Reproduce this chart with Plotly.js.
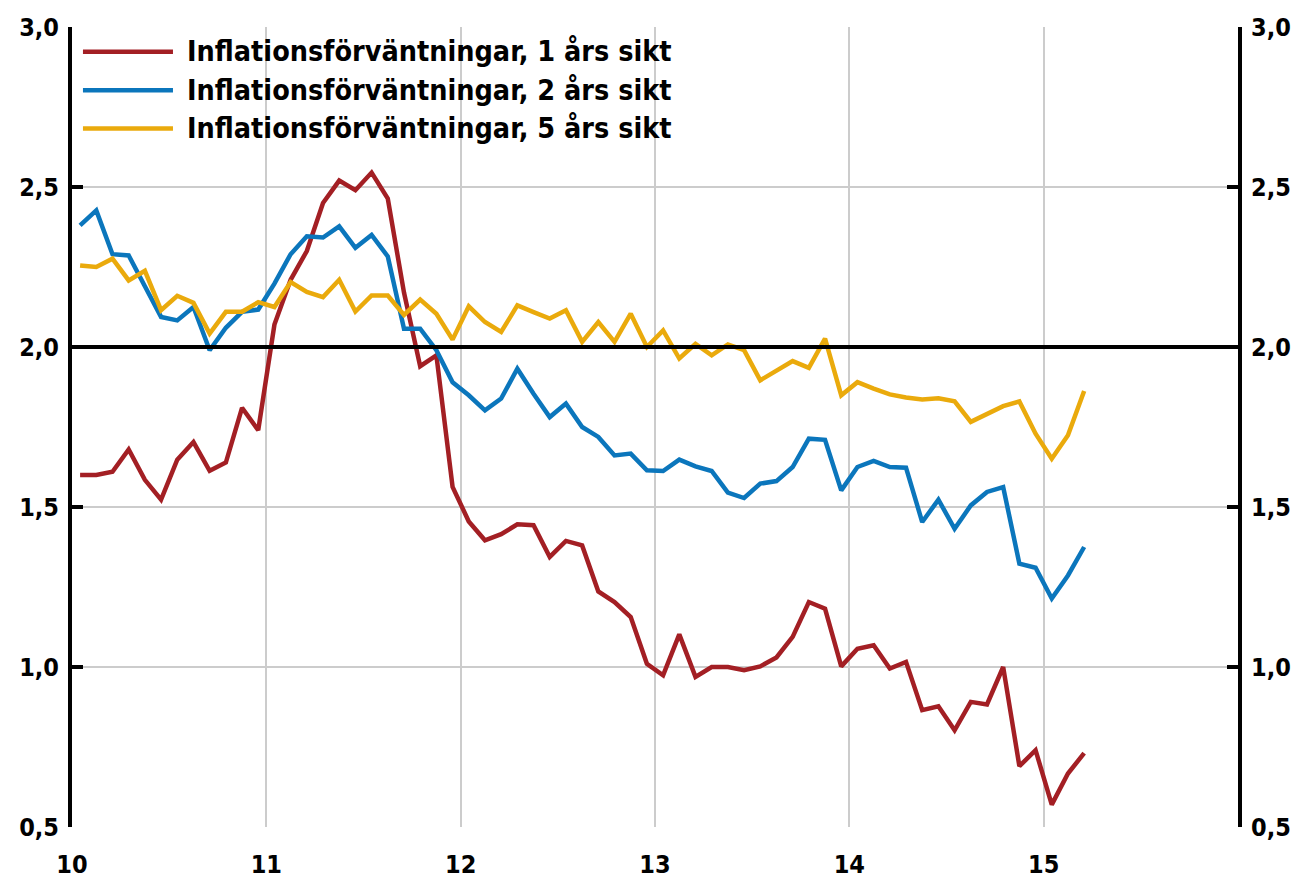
<!DOCTYPE html>
<html>
<head>
<meta charset="utf-8">
<script src="https://cdn.plot.ly/plotly-3.0.1.min.js"></script>
<style>html,body{margin:0;padding:0;background:#fff;}#chart{width:1299px;height:880px;}</style>
</head>
<body>
<div id="chart"></div>
<script>
// Monthly observations, Jan 2010 – Mar 2015
const startYear = 10;
const nMonths = 63;
const seriesNames = [
  "Inflationsförväntningar, 1 års sikt",
  "Inflationsförväntningar, 2 års sikt",
  "Inflationsförväntningar, 5 års sikt"
];
const oneYear = [
  1.60, 1.60, 1.61, 1.68, 1.585, 1.523, 1.648, 1.703, 1.613, 1.639, 1.81, 1.74,
  2.07, 2.21, 2.30, 2.45, 2.52, 2.49, 2.545, 2.464, 2.17, 1.94, 1.974, 1.563,
  1.455, 1.396, 1.415, 1.446, 1.443, 1.344, 1.394, 1.38, 1.236, 1.203, 1.156, 1.01,
  0.974, 1.102, 0.969, 1.0, 1.0, 0.99, 1.002, 1.03, 1.094, 1.203, 1.182, 1.002,
  1.057, 1.068, 0.995, 1.016, 0.865, 0.877, 0.802, 0.891, 0.883, 1.0, 0.69, 0.74,
  0.57, 0.667, 0.731
];
const twoYear = [
  2.38, 2.427, 2.29, 2.286, 2.19, 2.094, 2.083, 2.125, 1.99, 2.06, 2.11, 2.117,
  2.198, 2.29, 2.346, 2.342, 2.377, 2.31, 2.35, 2.283, 2.057, 2.057, 1.99, 1.89,
  1.849, 1.802, 1.839, 1.932, 1.854, 1.781, 1.823, 1.75, 1.719, 1.661, 1.667, 1.615,
  1.6125, 1.648, 1.627, 1.6125, 1.545, 1.528, 1.573, 1.581, 1.625, 1.7135, 1.71, 1.552,
  1.625, 1.644, 1.625, 1.623, 1.453, 1.523, 1.432, 1.505, 1.547, 1.5625, 1.323, 1.31,
  1.214, 1.286, 1.375
];
const fiveYear = [
  2.255, 2.25, 2.276, 2.208, 2.238, 2.115, 2.16, 2.138, 2.042, 2.11, 2.11, 2.14,
  2.125, 2.203, 2.172, 2.156, 2.21, 2.111, 2.161, 2.161, 2.10, 2.148, 2.104, 2.023,
  2.127, 2.078, 2.047, 2.13, 2.109, 2.089, 2.115, 2.016, 2.078, 2.016, 2.104, 2.0,
  2.052, 1.964, 2.01, 1.974, 2.008, 1.99, 1.896, 1.927, 1.956, 1.935, 2.026, 1.849,
  1.89, 1.87, 1.852, 1.842, 1.836, 1.84, 1.83, 1.766, 1.792, 1.815, 1.83, 1.729,
  1.651, 1.724, 1.8625
];
const xTickVals = [10, 11, 12, 13, 14, 15];
const xTickText = ["10", "11", "12", "13", "14", "15"];
const refLevel = 2.0;

// month positions (mid-month) in decimal years
const months = [];
for (let i = 0; i < nMonths; i++) months.push(startYear + (i + 0.5) / 12);

const colors = ["#A31F24", "#0B76BC", "#EAAA0C"];
const FONT = "'DejaVu Sans Condensed', 'DejaVu Sans', sans-serif";
const seriesData = [oneYear, twoYear, fiveYear];

const traces = seriesData.map((ys, k) => ({
  type: "scatter", mode: "lines", x: months, y: ys, name: seriesNames[k],
  line: {color: colors[k], width: 4.5}, showlegend: false, hoverinfo: "x+y"
}));
// carrier trace for right-hand axis
traces.push({type: "scatter", mode: "lines", x: months, y: oneYear, yaxis: "y2",
  line: {color: "rgba(0,0,0,0)", width: 0}, showlegend: false, hoverinfo: "skip"});

const tickFont = {family: FONT, size: 25, color: "#000", weight: 700};
const yCommon = {
  range: [0.5, 3.0], tick0: 0.5, dtick: 0.5, tickformat: ".1f",
  showline: true, linewidth: 4, linecolor: "#000",
  ticks: "inside", ticklen: 11, tickwidth: 4, tickcolor: "#000",
  zeroline: false, tickfont: tickFont, fixedrange: true
};

const shapes = [{
  type: "line", xref: "paper", x0: 0, x1: 1, yref: "y", y0: refLevel, y1: refLevel,
  line: {color: "#000", width: 4}, layer: "above"
}];
const annotations = [];
const legendRowsY = [0.969, 0.921, 0.873];
seriesNames.forEach((nm, k) => {
  shapes.push({type: "line", xref: "paper", yref: "paper",
    x0: 0.0094, x1: 0.0866, y0: legendRowsY[k], y1: legendRowsY[k],
    line: {color: colors[k], width: 4.5}});
  annotations.push({xref: "paper", yref: "paper", x: 0.0969, y: legendRowsY[k],
    xanchor: "left", yanchor: "middle", showarrow: false, text: nm,
    font: {family: FONT, size: 28.5, color: "#000", weight: 700}});
});

const layout = {
  width: 1299, height: 880, autosize: false,
  margin: {l: 72, r: 61, t: 27, b: 53, pad: 0},
  paper_bgcolor: "#fff", plot_bgcolor: "#fff",
  separators: ", ",
  showlegend: false,
  xaxis: {
    range: [10, 16], tickvals: xTickVals, ticktext: xTickText,
    showgrid: true, gridcolor: "#cccccc", gridwidth: 2,
    showline: false, zeroline: false, ticks: "", ticklabelstandoff: 20,
    tickfont: tickFont, fixedrange: true
  },
  yaxis: Object.assign({}, yCommon, {side: "left", showgrid: true, gridcolor: "#cccccc", gridwidth: 2, ticklabelstandoff: 4}),
  yaxis2: Object.assign({}, yCommon, {side: "right", overlaying: "y", showgrid: false, ticklabelstandoff: 4}),
  shapes: shapes,
  annotations: annotations
};

Plotly.newPlot("chart", traces, layout, {displayModeBar: false, staticPlot: true});
</script>
</body>
</html>
